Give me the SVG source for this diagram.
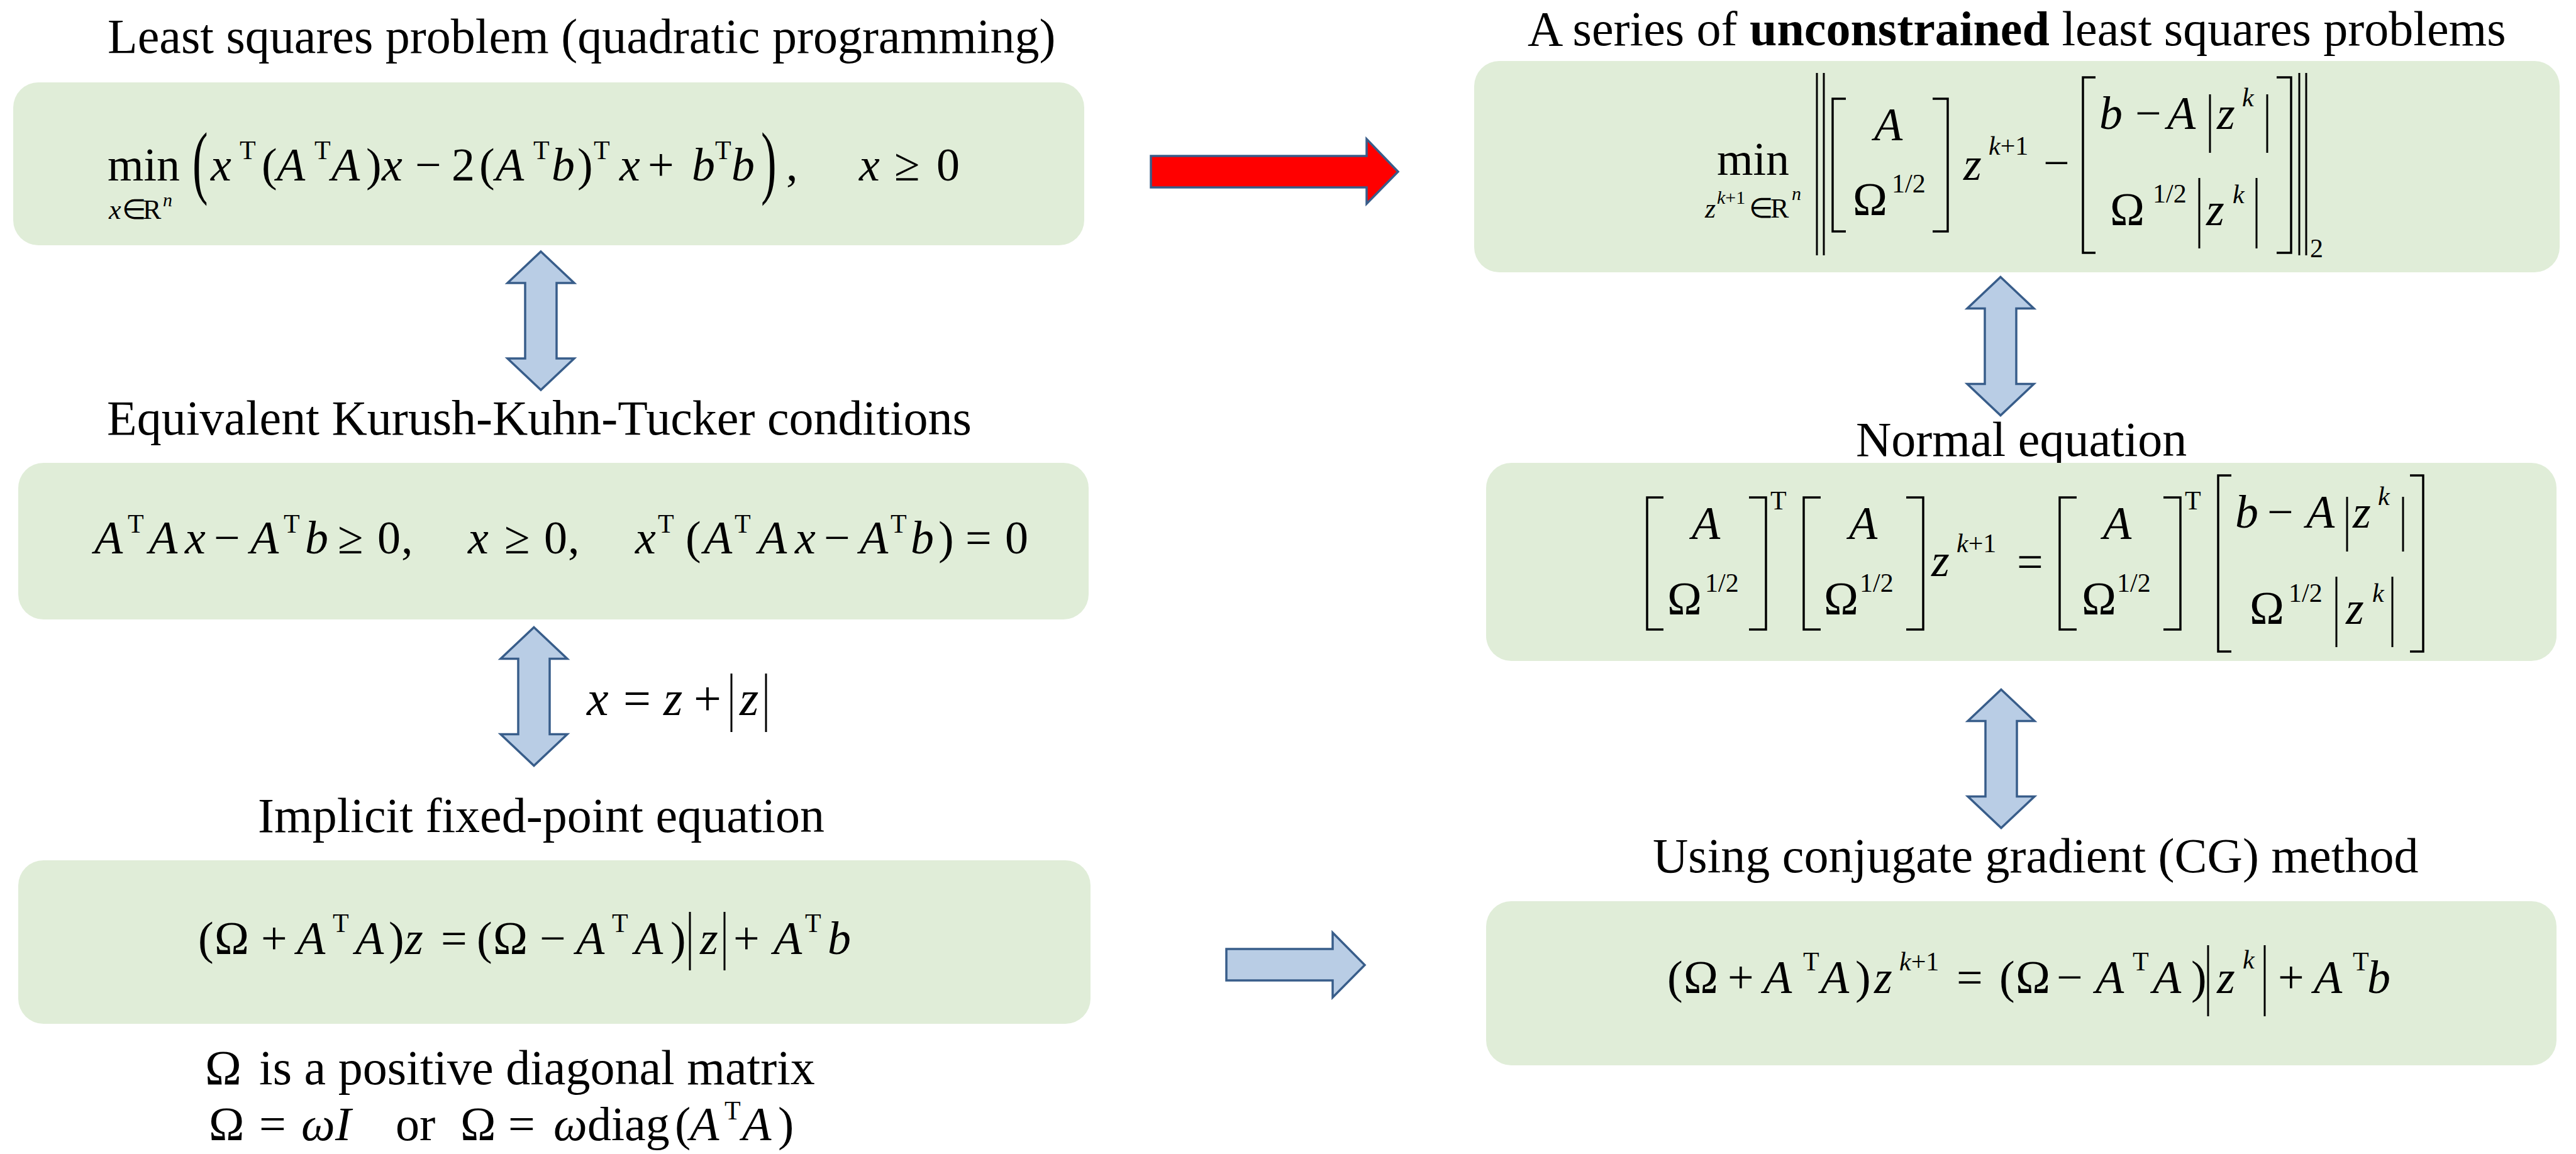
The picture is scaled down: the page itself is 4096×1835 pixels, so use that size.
<svg xmlns="http://www.w3.org/2000/svg" xmlns:xlink="http://www.w3.org/1999/xlink" width="4096" height="1835" viewBox="0 0 4096 1835">
<style>
.ttl{font-family:"Liberation Serif","Times New Roman",serif;font-size:78px;fill:#000}
.eq{font-family:"Liberation Serif","Times New Roman",serif;font-size:74px;fill:#000}
.i{font-style:italic}
.s{font-size:42px}
.ss{font-size:30px}
.box{fill:#E0EDD8}
.arr{fill:#B9CDE5;stroke:#385D8A;stroke-width:3.5;stroke-linejoin:miter}
.red{fill:#FF0000;stroke:#385D8A;stroke-width:3.5}
.br{fill:none;stroke:#000;stroke-width:3.5}
.bar{stroke:#000;stroke-width:3}
</style>
<defs>
<path id="dbl" d="M0,-110 L53,-60 L25,-60 L25,60 L53,60 L0,110 L-53,60 L-25,60 L-25,-60 L-53,-60 Z"/>
</defs>
<rect width="4096" height="1835" fill="#fff"/>

<g id="node-lsq">
<text class="ttl" x="171" y="84">Least squares problem (quadratic programming)</text>
<rect class="box" x="21" y="131" width="1703" height="259" rx="40" ry="40"/>
<text class="eq" y="287">
<tspan x="171">min</tspan>
<tspan class="i" x="335">x</tspan><tspan class="s" x="381" y="253">T</tspan>
<tspan x="416" y="287">(</tspan><tspan class="i" x="440">A</tspan><tspan class="s" x="500" y="253">T</tspan>
<tspan class="i" x="527" y="287">A</tspan><tspan x="582">)</tspan><tspan class="i" x="607">x</tspan>
<tspan x="660">−</tspan><tspan x="718">2</tspan><tspan x="762">(</tspan><tspan class="i" x="788">A</tspan><tspan class="s" x="848" y="253">T</tspan>
<tspan class="i" x="877" y="287">b</tspan><tspan x="918">)</tspan><tspan class="s" x="944" y="253">T</tspan>
<tspan class="i" x="985" y="287">x</tspan><tspan x="1030">+</tspan><tspan class="i" x="1100">b</tspan><tspan class="s" x="1137" y="253">T</tspan>
<tspan class="i" x="1163" y="287">b</tspan><tspan x="1250">,</tspan>
<tspan class="i" x="1366">x</tspan><tspan x="1422">≥</tspan><tspan x="1489">0</tspan>
</text>
<text class="eq" y="348" style="font-size:44px"><tspan class="i" x="173">x</tspan><tspan x="194">∈</tspan><tspan x="227">R</tspan><tspan class="i ss" x="259" y="328">n</tspan></text>
<text class="eq" transform="translate(306,300) scale(1,1.75)">(</text>
<text class="eq" transform="translate(1210,300) scale(1,1.75)">)</text>
</g>

<g id="node-kkt">
<text class="ttl" x="170" y="691">Equivalent Kurush-Kuhn-Tucker conditions</text>
<rect class="box" x="29" y="736" width="1702" height="249" rx="40" ry="40"/>
<text class="eq" y="880">
<tspan class="i" x="150">A</tspan><tspan class="s" x="203" y="847">T</tspan><tspan class="i" x="237" y="880">A</tspan><tspan class="i" x="294">x</tspan>
<tspan x="340">−</tspan><tspan class="i" x="398">A</tspan><tspan class="s" x="451" y="847">T</tspan><tspan class="i" x="485" y="880">b</tspan>
<tspan x="537">≥</tspan><tspan x="600">0</tspan><tspan x="638">,</tspan>
<tspan class="i" x="744">x</tspan><tspan x="802">≥</tspan><tspan x="865">0</tspan><tspan x="903">,</tspan>
<tspan class="i" x="1010">x</tspan><tspan class="s" x="1046" y="847">T</tspan><tspan x="1090" y="880">(</tspan>
<tspan class="i" x="1119">A</tspan><tspan class="s" x="1168" y="847">T</tspan><tspan class="i" x="1206" y="880">A</tspan><tspan class="i" x="1264">x</tspan>
<tspan x="1310">−</tspan><tspan class="i" x="1367">A</tspan><tspan class="s" x="1416" y="847">T</tspan><tspan class="i" x="1448" y="880">b</tspan>
<tspan x="1492">)</tspan><tspan x="1535">=</tspan><tspan x="1598">0</tspan>
</text>
</g>

<g id="node-fixed">
<text class="ttl" x="410" y="1323">Implicit fixed-point equation</text>
<rect class="box" x="29" y="1368" width="1705" height="260" rx="40" ry="40"/>
<text class="eq" y="1517">
<tspan x="315">(</tspan><tspan x="341">Ω</tspan><tspan x="415">+</tspan><tspan class="i" x="472">A</tspan><tspan class="s" x="529" y="1482">T</tspan>
<tspan class="i" x="565" y="1517">A</tspan><tspan x="618">)</tspan><tspan class="i" x="644">z</tspan><tspan x="701">=</tspan>
<tspan x="758">(</tspan><tspan x="784">Ω</tspan><tspan x="858">−</tspan><tspan class="i" x="916">A</tspan><tspan class="s" x="973" y="1482">T</tspan>
<tspan class="i" x="1009" y="1517">A</tspan><tspan x="1066">)</tspan><tspan class="i" x="1113">z</tspan><tspan x="1166">+</tspan>
<tspan class="i" x="1230">A</tspan><tspan class="s" x="1280" y="1482">T</tspan><tspan class="i" x="1316" y="1517">b</tspan>
</text>
<line class="bar" x1="1097" y1="1450" x2="1097" y2="1543"/>
<line class="bar" x1="1152" y1="1450" x2="1152" y2="1543"/>
</g>

<g id="node-note">
<text class="ttl" y="1724"><tspan x="326">Ω</tspan><tspan x="412">is a positive diagonal matrix</tspan></text>
<text class="eq" y="1813" style="font-size:76px">
<tspan x="332">Ω</tspan><tspan x="412">=</tspan><tspan class="i" x="479">ω</tspan><tspan class="i" x="533">I</tspan>
<tspan x="629">or</tspan>
<tspan x="732">Ω</tspan><tspan x="808">=</tspan><tspan class="i" x="880">ω</tspan><tspan x="934">diag</tspan><tspan x="1073">(</tspan>
<tspan class="i" x="1097">A</tspan><tspan class="s" x="1152" y="1780">T</tspan><tspan class="i" x="1180" y="1813">A</tspan><tspan x="1237">)</tspan>
</text>
</g>

<g id="node-unconstrained">
<text class="ttl" x="2429" y="72">A series of <tspan font-weight="bold">unconstrained</tspan> least squares problems</text>
<rect class="box" x="2344" y="97" width="1726" height="336" rx="40" ry="40"/>
<text class="eq" x="2730" y="278">min</text>
<text class="eq" y="346" style="font-size:44px"><tspan class="i" x="2711">z</tspan><tspan class="ss" x="2730" y="324"><tspan class="i">k</tspan>+1</tspan><tspan x="2781" y="346">∈</tspan><tspan x="2815">R</tspan><tspan class="i ss" x="2849" y="318">n</tspan></text>
<line class="bar" x1="2889" y1="116" x2="2889" y2="406"/>
<line class="bar" x1="2900" y1="116" x2="2900" y2="406"/>
<path class="br" d="M2935,157 L2914,157 L2914,368 L2935,368"/>
<path class="br" d="M3073,157 L3097,157 L3097,368 L3073,368"/>
<path class="br" d="M3332,123 L3312,123 L3312,402 L3332,402"/>
<path class="br" d="M3620,123 L3643,123 L3643,402 L3620,402"/>
<line class="bar" x1="3656" y1="116" x2="3656" y2="406"/>
<line class="bar" x1="3667" y1="116" x2="3667" y2="406"/>
<text class="eq">
<tspan class="i" x="2980" y="223">A</tspan>
<tspan x="2946" y="342">Ω</tspan><tspan class="s" x="3008" y="306">1/2</tspan>
<tspan class="i" x="3122" y="286">z</tspan><tspan class="s" x="3162" y="246"><tspan class="i">k</tspan>+1</tspan>
<tspan x="3249" y="284">−</tspan>
<tspan class="i" x="3338" y="205">b</tspan><tspan x="3395">−</tspan><tspan class="i" x="3446">A</tspan><tspan class="i" x="3525">z</tspan><tspan class="i s" x="3565" y="169">k</tspan>
<tspan x="3355" y="358">Ω</tspan><tspan class="s" x="3423" y="322">1/2</tspan><tspan class="i" x="3508" y="358">z</tspan><tspan class="i s" x="3550" y="323">k</tspan>
<tspan class="s" x="3673" y="409">2</tspan>
</text>
<line class="bar" x1="3514" y1="150" x2="3514" y2="243"/>
<line class="bar" x1="3605" y1="150" x2="3605" y2="243"/>
<line class="bar" x1="3497" y1="283" x2="3497" y2="395"/>
<line class="bar" x1="3588" y1="283" x2="3588" y2="395"/>
</g>

<g id="node-normal">
<text class="ttl" x="2951" y="725">Normal equation</text>
<rect class="box" x="2363" y="736" width="1702" height="315" rx="40" ry="40"/>
<path class="br" d="M2645,791 L2619,791 L2619,1001 L2645,1001"/>
<path class="br" d="M2781,791 L2808,791 L2808,1001 L2781,1001"/>
<path class="br" d="M2895,791 L2868,791 L2868,1001 L2895,1001"/>
<path class="br" d="M3031,791 L3058,791 L3058,1001 L3031,1001"/>
<path class="br" d="M3302,791 L3275,791 L3275,1001 L3302,1001"/>
<path class="br" d="M3440,791 L3467,791 L3467,1001 L3440,1001"/>
<path class="br" d="M3548,756 L3527,756 L3527,1036 L3548,1036"/>
<path class="br" d="M3832,756 L3853,756 L3853,1036 L3832,1036"/>
<text class="eq">
<tspan class="i" x="2690" y="857">A</tspan><tspan x="2651" y="977">Ω</tspan><tspan class="s" x="2711" y="941">1/2</tspan><tspan class="s" x="2815" y="810">T</tspan>
<tspan class="i" x="2940" y="857">A</tspan><tspan x="2900" y="977">Ω</tspan><tspan class="s" x="2957" y="941">1/2</tspan>
<tspan class="i" x="3071" y="916">z</tspan><tspan class="s" x="3111" y="878"><tspan class="i">k</tspan>+1</tspan>
<tspan x="3207" y="918">=</tspan>
<tspan class="i" x="3344" y="857">A</tspan><tspan x="3310" y="977">Ω</tspan><tspan class="s" x="3366" y="941">1/2</tspan><tspan class="s" x="3474" y="810">T</tspan>
<tspan class="i" x="3554" y="839">b</tspan><tspan x="3605">−</tspan><tspan class="i" x="3667">A</tspan><tspan class="i" x="3741">z</tspan><tspan class="i s" x="3781" y="803">k</tspan>
<tspan x="3577" y="992">Ω</tspan><tspan class="s" x="3639" y="957">1/2</tspan><tspan class="i" x="3730" y="992">z</tspan><tspan class="i s" x="3772" y="957">k</tspan>
</text>
<line class="bar" x1="3732" y1="790" x2="3732" y2="877"/>
<line class="bar" x1="3821" y1="790" x2="3821" y2="877"/>
<line class="bar" x1="3715" y1="917" x2="3715" y2="1029"/>
<line class="bar" x1="3804" y1="917" x2="3804" y2="1029"/>
</g>

<g id="node-cg">
<text class="ttl" x="2628" y="1387">Using conjugate gradient (CG) method</text>
<rect class="box" x="2363" y="1433" width="1702" height="261" rx="40" ry="40"/>
<text class="eq" y="1579">
<tspan x="2651">(</tspan><tspan x="2677">Ω</tspan><tspan x="2747">+</tspan><tspan class="i" x="2804">A</tspan><tspan class="s" x="2867" y="1543">T</tspan>
<tspan class="i" x="2895" y="1579">A</tspan><tspan x="2950">)</tspan><tspan class="i" x="2980">z</tspan><tspan class="s" x="3020" y="1543"><tspan class="i">k</tspan>+1</tspan>
<tspan x="3111" y="1579">=</tspan><tspan x="3179">(</tspan><tspan x="3205">Ω</tspan><tspan x="3270">−</tspan><tspan class="i" x="3332">A</tspan><tspan class="s" x="3391" y="1543">T</tspan>
<tspan class="i" x="3423" y="1579">A</tspan><tspan x="3484">)</tspan><tspan class="i" x="3525">z</tspan><tspan class="i s" x="3566" y="1540">k</tspan>
<tspan x="3622" y="1579">+</tspan><tspan class="i" x="3679">A</tspan><tspan class="s" x="3741" y="1543">T</tspan><tspan class="i" x="3764" y="1579">b</tspan>
</text>
<line class="bar" x1="3511" y1="1503" x2="3511" y2="1616"/>
<line class="bar" x1="3601" y1="1503" x2="3601" y2="1616"/>
</g>

<g id="connectors">
<use xlink:href="#dbl" href="#dbl" class="arr" transform="translate(860,510)"/>
<use xlink:href="#dbl" href="#dbl" class="arr" transform="translate(849,1107.5)"/>
<use xlink:href="#dbl" href="#dbl" class="arr" transform="translate(3181,550.5)"/>
<use xlink:href="#dbl" href="#dbl" class="arr" transform="translate(3182,1206.5)"/>
<path class="red" d="M1830,248 L2173,248 L2173,221 L2223,273 L2173,324 L2173,298 L1830,298 Z"/>
<path class="arr" d="M1950,1509 L2119,1509 L2119,1483 L2170,1534.5 L2119,1586 L2119,1559 L1950,1559 Z"/>
<text class="eq" y="1137" style="font-size:78px"><tspan class="i" x="933">x</tspan><tspan x="991">=</tspan><tspan class="i" x="1055">z</tspan><tspan x="1103">+</tspan><tspan class="i" x="1176">z</tspan></text>
<line class="bar" x1="1163" y1="1071" x2="1163" y2="1164"/>
<line class="bar" x1="1218" y1="1071" x2="1218" y2="1164"/>
</g>
</svg>
